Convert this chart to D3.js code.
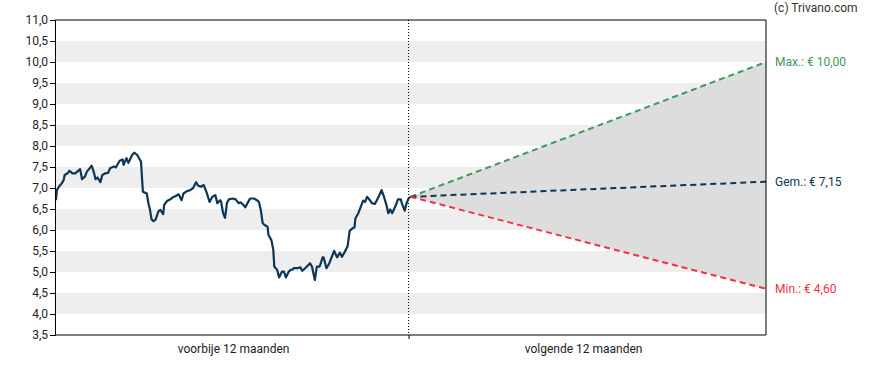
<!DOCTYPE html>
<html>
<head>
<meta charset="utf-8">
<script src="https://cdn.jsdelivr.net/npm/d3@7"></script>
<style>
  body { margin: 0; background: #fff; }
  svg text { font-family: Roboto, "DejaVu Sans", sans-serif; }
</style>
</head>
<body>
<div id="chart"></div>
<script>
// past 12 months: day offset from today, closing price
var pastDays = [-365, -364, -362, -359, -357, -356, -353, -351, -348, -345, -340, -338, -335, -333, -328, -326, -324, -322, -319, -317,
  -314, -311, -309, -305, -303, -301, -299, -296, -295, -292, -290, -286, -284, -281, -279, -277, -275, -273, -271, -269,
  -268, -266, -264, -262, -259, -257, -254, -253, -250, -246, -244, -241, -238, -235, -233, -229, -226, -223, -220, -218,
  -215, -212, -209, -206, -203, -200, -198, -195, -194, -192, -190, -188, -186, -182, -179, -176, -174, -171, -169, -166,
  -164, -160, -157, -155, -153, -151, -149, -146, -145, -142, -140, -139, -136, -134, -131, -129, -127, -124, -122, -120,
  -119, -115, -112, -110, -107, -102, -100, -97, -95, -92, -89, -88, -85, -82, -80, -77, -74, -71, -69, -66,
  -63, -61, -58, -56, -55, -52, -50, -47, -45, -43, -40, -38, -35, -33, -31, -28, -26, -23, -21, -19,
  -17, -13, -11, -8, -7, -4, -2, 0, 2];
var pastPrices = [6.71, 6.95, 7.03, 7.11, 7.19, 7.31, 7.35, 7.41, 7.35, 7.35, 7.45, 7.21, 7.27, 7.39, 7.53, 7.39, 7.21, 7.25, 7.14, 7.31,
  7.35, 7.36, 7.47, 7.51, 7.49, 7.57, 7.65, 7.68, 7.55, 7.71, 7.60, 7.79, 7.84, 7.79, 7.71, 7.63, 6.91, 6.89, 6.87, 6.60,
  6.52, 6.25, 6.21, 6.24, 6.44, 6.48, 6.38, 6.60, 6.69, 6.74, 6.78, 6.81, 6.85, 6.71, 6.87, 6.93, 6.95, 7.00, 7.14, 7.06,
  7.03, 7.07, 6.89, 6.67, 6.79, 6.83, 6.64, 6.71, 6.67, 6.40, 6.29, 6.64, 6.73, 6.75, 6.73, 6.64, 6.66, 6.60, 6.54, 6.67,
  6.75, 6.75, 6.71, 6.67, 6.48, 6.16, 6.12, 6.08, 5.88, 5.76, 5.52, 5.13, 5.05, 4.87, 5.01, 5.01, 4.87, 5.01, 5.05, 5.06,
  5.09, 5.09, 5.11, 5.03, 5.09, 5.21, 5.13, 4.81, 5.13, 5.13, 5.35, 5.35, 5.09, 5.21, 5.33, 5.50, 5.35, 5.46, 5.36, 5.48,
  5.62, 5.98, 6.04, 6.06, 6.28, 6.40, 6.52, 6.70, 6.67, 6.79, 6.71, 6.64, 6.62, 6.70, 6.79, 6.95, 6.83, 6.60, 6.40, 6.49,
  6.40, 6.60, 6.73, 6.73, 6.64, 6.46, 6.64, 6.75, 6.79];

// analyst targets 12 months ahead
var forecastNames = ['Max.', 'Gem.', 'Min.'];
var forecastValues = [10.00, 7.15, 4.60];
var forecastColors = ['#3c9a5c', '#0d3556', '#f03246'];
var forecastEndDay = 370;

var yTicks = [3.5, 4, 4.5, 5, 5.5, 6, 6.5, 7, 7.5, 8, 8.5, 9, 9.5, 10, 10.5, 11];
var bandStarts = [4, 5, 6, 7, 8, 9, 10];
var periodLabels = ['voorbije 12 maanden', 'volgende 12 maanden'];

var margin = { top: 20, right: 122, bottom: 35, left: 55 },
  width = 888 - margin.left - margin.right,
  height = 370 - margin.top - margin.bottom;

var svg = d3.select('#chart')
  .append('svg')
  .attr('width', 888)
  .attr('height', 370)
  .append('g')
  .attr('transform', 'translate(' + margin.left + ',' + margin.top + ')');

var xScale = d3.scaleLinear().domain([-366, forecastEndDay]).range([0, width]);
var yScale = d3.scaleLinear().domain([3.5, 11]).range([height, 0]);

// alternating grey bands
svg.selectAll('.band')
  .data(bandStarts)
  .enter()
  .append('rect')
  .attr('x', 0)
  .attr('width', width)
  .attr('y', function (d) { return yScale(d + 0.5); })
  .attr('height', function (d) { return yScale(d) - yScale(d + 0.5); })
  .attr('fill', '#eeeeee');

// forecast fan between min and max
var lastDay = pastDays[pastDays.length - 1],
  lastPrice = pastPrices[pastPrices.length - 1];

var fan = [
  [xScale(lastDay), yScale(lastPrice)],
  [xScale(forecastEndDay), yScale(d3.max(forecastValues))],
  [xScale(forecastEndDay), yScale(d3.min(forecastValues))]
];
svg.append('path')
  .attr('d', 'M' + fan.join('L') + 'Z')
  .attr('fill', '#dddddd');

// today marker
svg.append('line')
  .attr('x1', xScale(0)).attr('x2', xScale(0))
  .attr('y1', 0).attr('y2', height)
  .attr('stroke', '#000')
  .attr('stroke-dasharray', '1,2');

// price line
var line = d3.line()
  .x(function (d) { return xScale(d[0]); })
  .y(function (d) { return yScale(d[1]); });

svg.append('path')
  .datum(d3.zip(pastDays, pastPrices))
  .attr('d', line)
  .attr('fill', 'none')
  .attr('stroke', '#0d3556')
  .attr('stroke-width', 2.2)
  .attr('stroke-linejoin', 'round');

// forecast lines
forecastValues.forEach(function (v, i) {
  svg.append('path')
    .datum([[lastDay, lastPrice], [forecastEndDay, v]])
    .attr('d', line)
    .attr('fill', 'none')
    .attr('stroke', forecastColors[i])
    .attr('stroke-width', 2)
    .attr('stroke-dasharray', '6,4');

  svg.append('text')
    .attr('x', width + 9)
    .attr('y', yScale(v))
    .attr('dy', '0.35em')
    .style('font-size', '12px')
    .style('fill', forecastColors[i])
    .text(forecastNames[i] + ': € ' + d3.format('.2f')(v).replace('.', ','));
});

// frame
svg.append('line').attr('x1', 0).attr('x2', width).attr('y1', 0).attr('y2', 0).attr('stroke', '#000');
svg.append('line').attr('x1', width).attr('x2', width).attr('y1', 0).attr('y2', height).attr('stroke', '#000');

// y axis
var yAxis = svg.append('g')
  .call(d3.axisLeft(yScale)
    .tickValues(yTicks)
    .tickSize(5)
    .tickPadding(2)
    .tickFormat(function (d) { return d3.format('.1f')(d).replace('.', ','); }));
yAxis.selectAll('text').style('font-size', '12px').style('fill', '#222');
yAxis.select('.domain').attr('stroke', '#000');

// x axis
var xAxis = svg.append('g')
  .attr('transform', 'translate(0,' + height + ')')
  .call(d3.axisBottom(xScale).tickValues([0]).tickSize(4).tickFormat(''));
xAxis.select('.domain').attr('d', 'M0,0H' + width);

// period labels sit the same distance either side of today
svg.selectAll('.period')
  .data(periodLabels)
  .enter()
  .append('text')
  .attr('x', function (d, i) { return xScale(0) + (i === 0 ? -175 : 175); })
  .attr('y', height + 14)
  .attr('dy', '0.35em')
  .style('text-anchor', 'middle')
  .style('font-size', '12px')
  .style('fill', '#222')
  .text(function (d) { return d; });

svg.append('text')
  .attr('x', width + 8)
  .attr('y', -12)
  .attr('dy', '0.35em')
  .style('font-size', '12px')
  .style('fill', '#333')
  .text('(c) Trivano.com');
</script>
</body>
</html>
